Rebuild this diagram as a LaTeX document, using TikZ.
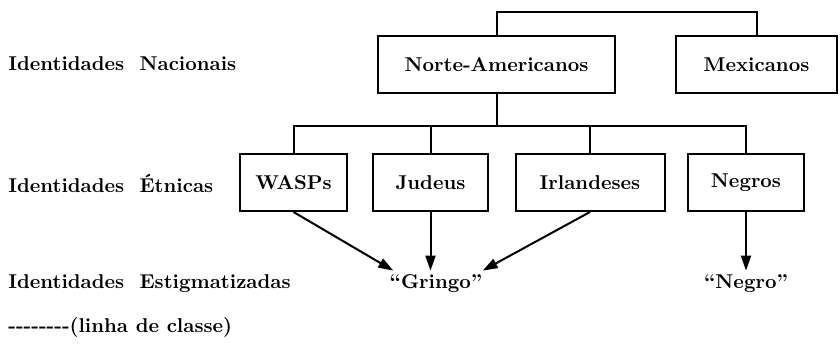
\documentclass[tikz,border=0pt]{standalone}
\usepackage{tikz}
\usetikzlibrary{arrows.meta}

\begin{document}
\begin{tikzpicture}[x=0.5pt,y=0.5pt,
  box/.style={draw, line width=1pt, minimum height=28.5pt, font=\bfseries},
  lbl/.style={anchor=west, inner sep=0pt, font=\bfseries},
  ident/.style={font=\bfseries, inner sep=2pt},
  link/.style={line width=1pt},
  arr/.style={line width=1pt, -{Triangle[length=7.5pt,width=5pt]}}]
\useasboundingbox (0,0) rectangle (840,346);
% niveis
\node[lbl] (nac) at (8,282) {Identidades\ \ Nacionais};
\node[lbl] (etn) at (8,163) {Identidades\ \ Étnicas};
\node[lbl] (est) at (8,62) {Identidades\ \ Estigmatizadas};
\node[lbl] (cls) at (8,19) {-{}-{}-{}-{}-{}-{}-{}-(linha\ de\ classe)};
% identidades nacionais
\node[box, minimum width=118.5pt] (norte) at (496.5,281.5) {Norte-Americanos};
\node[box, minimum width=80.5pt] (mex) at (756.5,281.5) {Mexicanos};
\coordinate (topo) at (626,334);
\draw[link] (norte.north) |- (topo) -| (mex.north);
% identidades etnicas
\node[box, minimum width=53.5pt] (wasps) at (293.5,163.5) {WASPs};
\node[box, minimum width=57.5pt] (judeus) at (430.5,163.5) {Judeus};
\node[box, minimum width=74.5pt] (irl) at (590,163.5) {Irlandeses};
\node[box, minimum width=58pt] (negros) at (746,163.5) {Negros};
\coordinate (barra) at (496.5,220);
\draw[link] (norte.south) -- (barra);
\foreach \n in {wasps,judeus,irl,negros}
  \draw[link] (\n.north) |- (barra);
% identidades estigmatizadas
\node[ident] (gringo) at (436,62) {``Gringo''};
\node[ident] (negro) at (746,62) {``Negro''};
\draw[arr] (wasps.south) -- ([xshift=4pt]gringo.north west);
\draw[arr] (judeus.south) -- (judeus.south |- gringo.north);
\draw[arr] (irl.south) -- ([xshift=-2pt]gringo.north east);
\draw[arr] (negros.south) -- (negro.north);
\end{tikzpicture}
\end{document}
